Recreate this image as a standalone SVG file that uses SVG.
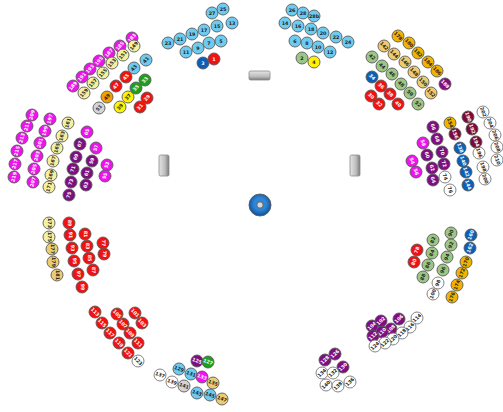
<svg xmlns="http://www.w3.org/2000/svg" width="503" height="412" viewBox="0 0 503 412">
<style>
circle{stroke:#5a5a5a;stroke-width:0.9}
text{font-family:"DejaVu Sans",sans-serif;font-size:4.8px;font-weight:bold;text-anchor:middle;dominant-baseline:central;fill:#222}
.lb circle{fill:#6ecbf0}.db circle{fill:#0b5fb5}.rd circle{fill:#f01212}.mg circle{fill:#ee12ee}
.pu circle{fill:#7d0f80}.mr circle{fill:#7a0a3a}.py circle{fill:#f4f0a0}.sd circle{fill:#ebcc70}
.gd circle{fill:#f0b400}.gr circle{fill:#1ca01c}.lg circle{fill:#9cc684}.ye circle{fill:#fff200}
.or circle{fill:#f0a000}.gy circle{fill:#d4d4d4}.wh circle{fill:#fff;stroke:#777}
.db text,.rd text,.mg text,.pu text,.mr text,.gr text{fill:#fff}
.kC text{transform:rotate(-50deg)}.kD text{transform:rotate(45deg)}.kE text{transform:rotate(-75deg)}
.kF text{transform:rotate(70deg)}.kG text{transform:rotate(90deg)}.kH text{transform:rotate(-70deg)}
.kI text{transform:rotate(45deg)}.kJ text{transform:rotate(20deg)}.kK text{transform:rotate(-45deg)}
</style>
<defs>
<linearGradient id="bh" x1="0" y1="0" x2="0" y2="1"><stop offset="0" stop-color="#e4e4e4"/><stop offset="0.6" stop-color="#bdbdbd"/><stop offset="1" stop-color="#7a7a7a"/></linearGradient>
<linearGradient id="bv" x1="0" y1="0" x2="1" y2="0"><stop offset="0" stop-color="#e4e4e4"/><stop offset="0.6" stop-color="#bdbdbd"/><stop offset="1" stop-color="#7a7a7a"/></linearGradient>
<radialGradient id="bl" cx="0.5" cy="0.45" r="0.55"><stop offset="0.5" stop-color="#2f86d6"/><stop offset="1" stop-color="#0a4f9a"/></radialGradient>
</defs>
<g id="connectors"></g>
<g id="podium-top"><rect x="249" y="71" width="21" height="9" rx="1.5" fill="url(#bh)" stroke="#8a8a8a" stroke-width="0.8"/></g>
<g id="podium-left"><rect x="159" y="155" width="10" height="21" rx="1.5" fill="url(#bv)" stroke="#8a8a8a" stroke-width="0.8"/></g>
<g id="podium-right"><rect x="350" y="155" width="10" height="21" rx="1.5" fill="url(#bv)" stroke="#8a8a8a" stroke-width="0.8"/></g>
<g id="center"><circle cx="260" cy="205" r="11" fill="url(#bl)" stroke="#0a4a90" stroke-width="1"/><circle cx="260" cy="205" r="3.2" fill="#d8d8d8" stroke="#999" stroke-width="0.6"/></g>

<g id="clusterA">
<g id="s27" class="lb" transform="translate(212 13)"><circle r="6"/><text>27</text></g>
<g id="s25" class="lb" transform="translate(223 9)"><circle r="6"/><text>25</text></g>
<g id="s23" class="lb" transform="translate(168 43)"><circle r="6"/><text>23</text></g>
<g id="s21" class="lb" transform="translate(180 39)"><circle r="6"/><text>21</text></g>
<g id="s19" class="lb" transform="translate(192 34)"><circle r="6"/><text>19</text></g>
<g id="s17" class="lb" transform="translate(204 30)"><circle r="6"/><text>17</text></g>
<g id="s15" class="lb" transform="translate(217 26)"><circle r="6"/><text>15</text></g>
<g id="s13" class="lb" transform="translate(232 23)"><circle r="6"/><text>13</text></g>
<g id="s11" class="lb" transform="translate(186 52)"><circle r="6"/><text>11</text></g>
<g id="s9" class="lb" transform="translate(198 48)"><circle r="6"/><text>9</text></g>
<g id="s7" class="lb" transform="translate(209 43)"><circle r="6"/><text>7</text></g>
<g id="s5" class="lb" transform="translate(221 41)"><circle r="6"/><text>5</text></g>
<g id="s3" class="db" transform="translate(203 63)"><circle r="6"/><text>3</text></g>
<g id="s1" class="rd" transform="translate(214 59)"><circle r="6"/><text>1</text></g>
</g>

<g id="clusterB">
<g id="s26" class="lb" transform="translate(292 10)"><circle r="6"/><text>26</text></g>
<g id="s28" class="lb" transform="translate(303 13)"><circle r="6"/><text>28</text></g>
<g id="s28b" class="lb" transform="translate(314 16)"><circle r="6"/><text>28b</text></g>
<g id="s14" class="lb" transform="translate(285 23)"><circle r="6"/><text>14</text></g>
<g id="s16" class="lb" transform="translate(298 26)"><circle r="6"/><text>16</text></g>
<g id="s18" class="lb" transform="translate(311 29)"><circle r="6"/><text>18</text></g>
<g id="s20" class="lb" transform="translate(323 33)"><circle r="6"/><text>20</text></g>
<g id="s22" class="lb" transform="translate(336 37)"><circle r="6"/><text>22</text></g>
<g id="s24" class="lb" transform="translate(348 42)"><circle r="6"/><text>24</text></g>
<g id="s6" class="lb" transform="translate(295 41)"><circle r="6"/><text>6</text></g>
<g id="s8" class="lb" transform="translate(307 43)"><circle r="6"/><text>8</text></g>
<g id="s10" class="lb" transform="translate(318 47)"><circle r="6"/><text>10</text></g>
<g id="s12" class="lb" transform="translate(330 52)"><circle r="6"/><text>12</text></g>
<g id="s2" class="lg" transform="translate(302 58)"><circle r="6"/><text>2</text></g>
<g id="s4" class="ye" transform="translate(314 62)"><circle r="6"/><text>4</text></g>
</g>

<g id="clusterC" class="kC">
<g id="s189" class="mg" transform="translate(73 86)"><circle r="6"/><text>189</text></g>
<g id="s191" class="mg" transform="translate(82 77)"><circle r="6"/><text>191</text></g>
<g id="s193" class="mg" transform="translate(90 69)"><circle r="6"/><text>193</text></g>
<g id="s195" class="mg" transform="translate(99 61)"><circle r="6"/><text>195</text></g>
<g id="s187" class="mg" transform="translate(109 53)"><circle r="6"/><text>187</text></g>
<g id="s185" class="mg" transform="translate(120 46)"><circle r="6"/><text>185</text></g>
<g id="s183" class="mg" transform="translate(132 38)"><circle r="6"/><text>183</text></g>
<g id="s159" class="py" transform="translate(84 93)"><circle r="6"/><text>159</text></g>
<g id="s157" class="py" transform="translate(93 83)"><circle r="6"/><text>157</text></g>
<g id="s155" class="py" transform="translate(103 73)"><circle r="6"/><text>155</text></g>
<g id="s153" class="py" transform="translate(112 63)"><circle r="6"/><text>153</text></g>
<g id="s151" class="py" transform="translate(123 55)"><circle r="6"/><text>151</text></g>
<g id="s149" class="py" transform="translate(134 46)"><circle r="6"/><text>149</text></g>
<g id="s43" class="lb" transform="translate(134 68)"><circle r="6"/><text>43</text></g>
<g id="s41" class="lb" transform="translate(146 60)"><circle r="6"/><text>41</text></g>
<g id="s45" class="rd" transform="translate(126 77)"><circle r="6"/><text>45</text></g>
<g id="s47" class="rd" transform="translate(116 86)"><circle r="6"/><text>47</text></g>
<g id="s49" class="or" transform="translate(107 97)"><circle r="6"/><text>49</text></g>
<g id="s51" class="gy" transform="translate(99 108)"><circle r="6"/><text>51</text></g>
<g id="s33" class="gr" transform="translate(145 80)"><circle r="6"/><text>33</text></g>
<g id="s35" class="gr" transform="translate(136 88)"><circle r="6"/><text>35</text></g>
<g id="s37" class="ye" transform="translate(128 97)"><circle r="6"/><text>37</text></g>
<g id="s39" class="ye" transform="translate(120 107)"><circle r="6"/><text>39</text></g>
<g id="s29" class="rd" transform="translate(147 98)"><circle r="6"/><text>29</text></g>
<g id="s31" class="rd" transform="translate(140 107)"><circle r="6"/><text>31</text></g>
</g>

<g id="clusterD" class="kD">
<g id="s178" class="gd" transform="translate(398 36)"><circle r="6"/><text>178</text></g>
<g id="s180" class="gd" transform="translate(409 43)"><circle r="6"/><text>180</text></g>
<g id="s182" class="gd" transform="translate(418 53)"><circle r="6"/><text>182</text></g>
<g id="s184" class="gd" transform="translate(428 62)"><circle r="6"/><text>184</text></g>
<g id="s186" class="gd" transform="translate(437 71)"><circle r="6"/><text>186</text></g>
<g id="s188" class="pu" transform="translate(445 84)"><circle r="6"/><text>188</text></g>
<g id="s142" class="sd" transform="translate(384 46)"><circle r="6"/><text>142</text></g>
<g id="s144" class="sd" transform="translate(394 54)"><circle r="6"/><text>144</text></g>
<g id="s146" class="sd" transform="translate(405 62)"><circle r="6"/><text>146</text></g>
<g id="s148" class="sd" transform="translate(414 72)"><circle r="6"/><text>148</text></g>
<g id="s150" class="sd" transform="translate(423 82)"><circle r="6"/><text>150</text></g>
<g id="s152" class="sd" transform="translate(431 93)"><circle r="6"/><text>152</text></g>
<g id="s42" class="lg" transform="translate(372 57)"><circle r="6"/><text>42</text></g>
<g id="s44" class="lg" transform="translate(382 66)"><circle r="6"/><text>44</text></g>
<g id="s46" class="lg" transform="translate(392 74)"><circle r="6"/><text>46</text></g>
<g id="s48" class="lg" transform="translate(401 84)"><circle r="6"/><text>48</text></g>
<g id="s50" class="lg" transform="translate(410 93)"><circle r="6"/><text>50</text></g>
<g id="s52" class="lg" transform="translate(418 104)"><circle r="6"/><text>52</text></g>
<g id="s34" class="db" transform="translate(372 77)"><circle r="6"/><text>34</text></g>
<g id="s36" class="rd" transform="translate(381 86)"><circle r="6"/><text>36</text></g>
<g id="s38" class="rd" transform="translate(390 94)"><circle r="6"/><text>38</text></g>
<g id="s40" class="rd" transform="translate(398 104)"><circle r="6"/><text>40</text></g>
<g id="s30" class="rd" transform="translate(371 96)"><circle r="6"/><text>30</text></g>
<g id="s32" class="rd" transform="translate(379 104)"><circle r="6"/><text>32</text></g>
</g>

<g id="clusterE" class="kE">
<g id="s209" class="mg" transform="translate(32 115)"><circle r="6"/><text>209</text></g>
<g id="s211" class="mg" transform="translate(27 126)"><circle r="6"/><text>211</text></g>
<g id="s213" class="mg" transform="translate(22 138)"><circle r="6"/><text>213</text></g>
<g id="s215" class="mg" transform="translate(17 151)"><circle r="6"/><text>215</text></g>
<g id="s217" class="mg" transform="translate(15 164)"><circle r="6"/><text>217</text></g>
<g id="s219" class="mg" transform="translate(14 177)"><circle r="6"/><text>219</text></g>
<g id="s197" class="mg" transform="translate(50 119)"><circle r="6"/><text>197</text></g>
<g id="s199" class="mg" transform="translate(45 131)"><circle r="6"/><text>199</text></g>
<g id="s201" class="mg" transform="translate(40 143)"><circle r="6"/><text>201</text></g>
<g id="s203" class="mg" transform="translate(37 156)"><circle r="6"/><text>203</text></g>
<g id="s205" class="mg" transform="translate(34 169)"><circle r="6"/><text>205</text></g>
<g id="s207" class="mg" transform="translate(33 182)"><circle r="6"/><text>207</text></g>
<g id="s161" class="py" transform="translate(68 123)"><circle r="6"/><text>161</text></g>
<g id="s163" class="py" transform="translate(62 136)"><circle r="6"/><text>163</text></g>
<g id="s165" class="py" transform="translate(57 148)"><circle r="6"/><text>165</text></g>
<g id="s167" class="py" transform="translate(53 161)"><circle r="6"/><text>167</text></g>
<g id="s169" class="py" transform="translate(51 175)"><circle r="6"/><text>169</text></g>
<g id="s171" class="py" transform="translate(49 187)"><circle r="6"/><text>171</text></g>
<g id="s67" class="pu" transform="translate(80 144)"><circle r="6"/><text>67</text></g>
<g id="s69" class="pu" transform="translate(76 157)"><circle r="6"/><text>69</text></g>
<g id="s71" class="pu" transform="translate(73 169)"><circle r="6"/><text>71</text></g>
<g id="s73" class="pu" transform="translate(71 182)"><circle r="6"/><text>73</text></g>
<g id="s75" class="pu" transform="translate(69 195)"><circle r="6"/><text>75</text></g>
<g id="s65" class="mg" transform="translate(87 132)"><circle r="6"/><text>65</text></g>
<g id="s57" class="mg" transform="translate(96 148)"><circle r="6"/><text>57</text></g>
<g id="s53" class="mg" transform="translate(107 165)"><circle r="6"/><text>53</text></g>
<g id="s55" class="mg" transform="translate(105 176)"><circle r="6"/><text>55</text></g>
<g id="s59" class="pu" transform="translate(92 161)"><circle r="6"/><text>59</text></g>
<g id="s61" class="pu" transform="translate(87 173)"><circle r="6"/><text>61</text></g>
<g id="s63" class="pu" transform="translate(86 185)"><circle r="6"/><text>63</text></g>
</g>

<g id="clusterF" class="kF">
<g id="s202" class="wh" transform="translate(483 112)"><circle r="6"/><text>202</text></g>
<g id="s204" class="wh" transform="translate(490 123)"><circle r="6"/><text>204</text></g>
<g id="s206" class="wh" transform="translate(495 135)"><circle r="6"/><text>206</text></g>
<g id="s208" class="wh" transform="translate(497 147)"><circle r="6"/><text>208</text></g>
<g id="s210" class="wh" transform="translate(497 160)"><circle r="6"/><text>210</text></g>
<g id="s196" class="wh" transform="translate(479 153)"><circle r="6"/><text>196</text></g>
<g id="s198" class="wh" transform="translate(483 167)"><circle r="6"/><text>198</text></g>
<g id="s200" class="wh" transform="translate(485 179)"><circle r="6"/><text>200</text></g>
<g id="s190" class="mr" transform="translate(468 117)"><circle r="6"/><text>190</text></g>
<g id="s192" class="mr" transform="translate(472 129)"><circle r="6"/><text>192</text></g>
<g id="s194" class="mr" transform="translate(476 142)"><circle r="6"/><text>194</text></g>
<g id="s154" class="gd" transform="translate(450 123)"><circle r="6"/><text>154</text></g>
<g id="s156" class="mr" transform="translate(455 134)"><circle r="6"/><text>156</text></g>
<g id="s138" class="db" transform="translate(460 148)"><circle r="6"/><text>138</text></g>
<g id="s140" class="db" transform="translate(463 161)"><circle r="6"/><text>140</text></g>
<g id="s142b" class="db" transform="translate(466 172)"><circle r="6"/><text>142</text></g>
<g id="s144b" class="db" transform="translate(468 185)"><circle r="6"/><text>144</text></g>
<g id="s66" class="pu" transform="translate(433 127)"><circle r="6"/><text>66</text></g>
<g id="s68" class="pu" transform="translate(437 139)"><circle r="6"/><text>68</text></g>
<g id="s70" class="pu" transform="translate(442 152)"><circle r="6"/><text>70</text></g>
<g id="s72" class="pu" transform="translate(444 164)"><circle r="6"/><text>72</text></g>
<g id="s58" class="mg" transform="translate(423 143)"><circle r="6"/><text>58</text></g>
<g id="s60" class="pu" transform="translate(427 155)"><circle r="6"/><text>60</text></g>
<g id="s62" class="pu" transform="translate(432 168)"><circle r="6"/><text>62</text></g>
<g id="s64" class="pu" transform="translate(433 180)"><circle r="6"/><text>64</text></g>
<g id="s54" class="mg" transform="translate(412 161)"><circle r="6"/><text>54</text></g>
<g id="s56" class="mg" transform="translate(416 172)"><circle r="6"/><text>56</text></g>
<g id="s74" class="wh" transform="translate(445 177)"><circle r="6"/><text>74</text></g>
<g id="s76" class="wh" transform="translate(450 190)"><circle r="6"/><text>76</text></g>
</g>

<g id="clusterG" class="kG">
<g id="s173" class="py" transform="translate(49 223)"><circle r="6"/><text>173</text></g>
<g id="s175" class="py" transform="translate(49 237)"><circle r="6"/><text>175</text></g>
<g id="s177" class="sd" transform="translate(52 249)"><circle r="6"/><text>177</text></g>
<g id="s179" class="sd" transform="translate(53 262)"><circle r="6"/><text>179</text></g>
<g id="s181" class="sd" transform="translate(57 275)"><circle r="6"/><text>181</text></g>
<g id="s89" class="rd" transform="translate(69 223)"><circle r="6"/><text>89</text></g>
<g id="s91" class="rd" transform="translate(70 235)"><circle r="6"/><text>91</text></g>
<g id="s93" class="rd" transform="translate(72 248)"><circle r="6"/><text>93</text></g>
<g id="s95" class="rd" transform="translate(74 261)"><circle r="6"/><text>95</text></g>
<g id="s97" class="rd" transform="translate(78 274)"><circle r="6"/><text>97</text></g>
<g id="s99" class="rd" transform="translate(82 287)"><circle r="6"/><text>99</text></g>
<g id="s81" class="rd" transform="translate(85 234)"><circle r="6"/><text>81</text></g>
<g id="s83" class="rd" transform="translate(87 246)"><circle r="6"/><text>83</text></g>
<g id="s85" class="rd" transform="translate(89 258)"><circle r="6"/><text>85</text></g>
<g id="s87" class="rd" transform="translate(93 270)"><circle r="6"/><text>87</text></g>
<g id="s77" class="rd" transform="translate(103 243)"><circle r="6"/><text>77</text></g>
<g id="s79" class="rd" transform="translate(104 254)"><circle r="6"/><text>79</text></g>
</g>

<g id="clusterH" class="kH">
<g id="s78" class="rd" transform="translate(417 250)"><circle r="6"/><text>78</text></g>
<g id="s80" class="rd" transform="translate(414 262)"><circle r="6"/><text>80</text></g>
<g id="s82" class="lg" transform="translate(433 240)"><circle r="6"/><text>82</text></g>
<g id="s84" class="lg" transform="translate(432 253)"><circle r="6"/><text>84</text></g>
<g id="s86" class="lg" transform="translate(428 265)"><circle r="6"/><text>86</text></g>
<g id="s88" class="lg" transform="translate(423 277)"><circle r="6"/><text>88</text></g>
<g id="s90" class="lg" transform="translate(451 233)"><circle r="6"/><text>90</text></g>
<g id="s92" class="lg" transform="translate(451 245)"><circle r="6"/><text>92</text></g>
<g id="s94" class="lg" transform="translate(447 257)"><circle r="6"/><text>94</text></g>
<g id="s96" class="lg" transform="translate(443 270)"><circle r="6"/><text>96</text></g>
<g id="s98" class="wh" transform="translate(438 283)"><circle r="6"/><text>98</text></g>
<g id="s100" class="wh" transform="translate(433 294)"><circle r="6"/><text>100</text></g>
<g id="s160" class="db" transform="translate(471 235)"><circle r="6"/><text>160</text></g>
<g id="s162" class="db" transform="translate(470 248)"><circle r="6"/><text>162</text></g>
<g id="s170" class="gd" transform="translate(466 262)"><circle r="6"/><text>170</text></g>
<g id="s172" class="gd" transform="translate(462 273)"><circle r="6"/><text>172</text></g>
<g id="s174" class="gd" transform="translate(457 285)"><circle r="6"/><text>174</text></g>
<g id="s176" class="gd" transform="translate(452 297)"><circle r="6"/><text>176</text></g>
</g>

<g id="clusterI" class="kI">
<g id="s113" class="rd" transform="translate(95 312)"><circle r="6"/><text>113</text></g>
<g id="s115" class="rd" transform="translate(102 323)"><circle r="6"/><text>115</text></g>
<g id="s117" class="rd" transform="translate(110 333)"><circle r="6"/><text>117</text></g>
<g id="s119" class="rd" transform="translate(119 343)"><circle r="6"/><text>119</text></g>
<g id="s121" class="rd" transform="translate(128 353)"><circle r="6"/><text>121</text></g>
<g id="s123" class="wh" transform="translate(138 361)"><circle r="6"/><text>123</text></g>
<g id="s105" class="rd" transform="translate(117 314)"><circle r="6"/><text>105</text></g>
<g id="s107" class="rd" transform="translate(123 324)"><circle r="6"/><text>107</text></g>
<g id="s109" class="rd" transform="translate(130 333)"><circle r="6"/><text>109</text></g>
<g id="s111" class="rd" transform="translate(138 343)"><circle r="6"/><text>111</text></g>
<g id="s101" class="rd" transform="translate(135 313)"><circle r="6"/><text>101</text></g>
<g id="s103" class="rd" transform="translate(142 323)"><circle r="6"/><text>103</text></g>
</g>

<g id="clusterJ" class="kJ">
<g id="s125" class="pu" transform="translate(197 361)"><circle r="6"/><text>125</text></g>
<g id="s127" class="gr" transform="translate(208 362)"><circle r="6"/><text>127</text></g>
<g id="s129" class="lb" transform="translate(179 369)"><circle r="6"/><text>129</text></g>
<g id="s131" class="lb" transform="translate(191 374)"><circle r="6"/><text>131</text></g>
<g id="s133" class="mg" transform="translate(202 377)"><circle r="6"/><text>133</text></g>
<g id="s135" class="sd" transform="translate(213 383)"><circle r="6"/><text>135</text></g>
<g id="s137" class="wh" transform="translate(160 375)"><circle r="6"/><text>137</text></g>
<g id="s139" class="wh" transform="translate(172 382)"><circle r="6"/><text>139</text></g>
<g id="s141" class="gy" transform="translate(184 386)"><circle r="6"/><text>141</text></g>
<g id="s143" class="lb" transform="translate(197 393)"><circle r="6"/><text>143</text></g>
<g id="s145" class="lb" transform="translate(210 395)"><circle r="6"/><text>145</text></g>
<g id="s147" class="sd" transform="translate(222 399)"><circle r="6"/><text>147</text></g>
</g>

<g id="clusterK" class="kK">
<g id="s104" class="pu" transform="translate(372 326)"><circle r="6"/><text>104</text></g>
<g id="s102" class="pu" transform="translate(381 321)"><circle r="6"/><text>102</text></g>
<g id="s106" class="pu" transform="translate(399 319)"><circle r="6"/><text>106</text></g>
<g id="s108" class="pu" transform="translate(391 329)"><circle r="6"/><text>108</text></g>
<g id="s110" class="pu" transform="translate(382 332)"><circle r="6"/><text>110</text></g>
<g id="s112" class="pu" transform="translate(373 336)"><circle r="6"/><text>112</text></g>
<g id="s114" class="wh" transform="translate(417 318)"><circle r="6"/><text>114</text></g>
<g id="s116" class="wh" transform="translate(410 327)"><circle r="6"/><text>116</text></g>
<g id="s118" class="wh" transform="translate(402 333)"><circle r="6"/><text>118</text></g>
<g id="s120" class="wh" transform="translate(393 339)"><circle r="6"/><text>120</text></g>
<g id="s122" class="wh" transform="translate(385 343)"><circle r="6"/><text>122</text></g>
<g id="s124" class="wh" transform="translate(375 346)"><circle r="6"/><text>124</text></g>
<g id="s128" class="pu" transform="translate(325 360)"><circle r="6"/><text>128</text></g>
<g id="s126" class="pu" transform="translate(335 354)"><circle r="6"/><text>126</text></g>
<g id="s130" class="pu" transform="translate(343 367)"><circle r="6"/><text>130</text></g>
<g id="s134" class="wh" transform="translate(322 373)"><circle r="6"/><text>134</text></g>
<g id="s132" class="wh" transform="translate(333 373)"><circle r="6"/><text>132</text></g>
<g id="s140b" class="wh" transform="translate(326 385)"><circle r="6"/><text>140</text></g>
<g id="s138b" class="wh" transform="translate(338 386)"><circle r="6"/><text>138</text></g>
<g id="s136" class="wh" transform="translate(350 382)"><circle r="6"/><text>136</text></g>
</g>
</svg>
